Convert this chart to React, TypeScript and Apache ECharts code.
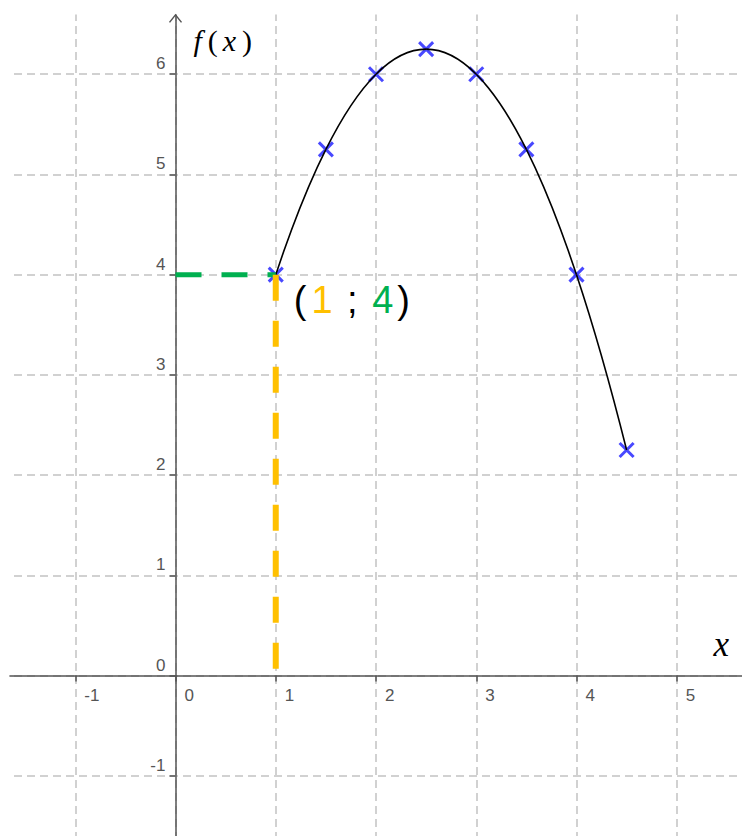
import React, { useEffect, useRef } from "react";
import * as echarts from "echarts";

// Sampled points of f, marked with crosses and joined by a smooth curve
const pointX = [1, 1.5, 2, 2.5, 3, 3.5, 4, 4.5];
const pointY = [4, 5.25, 6, 6.25, 6, 5.25, 4, 2.25];

// The highlighted point (x ; f(x))
const markedPoint = [1, 4];

// Axis ranges in whole units; the chart box is a little larger than the page
const xRange = [-2, 6];
const yRange = [-2, 7];

const W = 742;
const H = 836;
const ORIGIN_X = 175;
const ORIGIN_Y = 675;
const UNIT = 100.2;

// chart box placement relative to the page
const BOX_LEFT = ORIGIN_X + xRange[0] * UNIT;
const BOX_TOP = ORIGIN_Y - yRange[1] * UNIT;
const BOX_W = (xRange[1] - xRange[0]) * UNIT;
const BOX_H = (yRange[1] - yRange[0]) * UNIT;

const AXIS_COLOR = "#555";
const GRID_COLOR = "#c2c2c2";
const CROSS_COLOR = "#1a1aff";
const GREEN = "#00b050";
const ORANGE = "#ffc000";

const crossSymbol = "path://M0,0L10,10M10,0L0,10";

export default function App() {
  const ref = useRef<HTMLDivElement>(null);

  useEffect(() => {
    if (!ref.current) return;
    const chart = echarts.init(ref.current, null, { renderer: "svg" });

    const points = pointX.map((x, i) => [x, pointY[i]]);

    const splitLine = {
      show: true,
      lineStyle: { color: GRID_COLOR, width: 1.5, type: [8, 5] as number[] },
    };

    // smooth curve through the sampled points: cubic segments with
    // central-difference tangents (one-sided at both ends)
    const renderCurve = (_params: any, api: any) => {
      const p = points.map((pt) => api.coord(pt) as number[]);
      const n = p.length;
      const tangent = (i: number) => {
        if (i === 0) return [0, 1].map((k) => (-3 * p[0][k] + 4 * p[1][k] - p[2][k]) / 2);
        if (i === n - 1)
          return [0, 1].map((k) => (3 * p[n - 1][k] - 4 * p[n - 2][k] + p[n - 3][k]) / 2);
        return [0, 1].map((k) => (p[i + 1][k] - p[i - 1][k]) / 2);
      };
      const t = p.map((_, i) => tangent(i));
      const children = [];
      for (let i = 0; i < n - 1; i++) {
        children.push({
          type: "bezierCurve",
          shape: {
            x1: p[i][0],
            y1: p[i][1],
            x2: p[i + 1][0],
            y2: p[i + 1][1],
            cpx1: p[i][0] + t[i][0] / 3,
            cpy1: p[i][1] + t[i][1] / 3,
            cpx2: p[i + 1][0] - t[i + 1][0] / 3,
            cpy2: p[i + 1][1] - t[i + 1][1] / 3,
          },
          style: { stroke: "#000", lineWidth: 1.6, fill: "none" },
        });
      }
      return { type: "group", children };
    };

    const tickLabel = {
      showMinLabel: false,
      showMaxLabel: false,
      fontSize: 17,
      color: AXIS_COLOR,
      fontFamily: "Liberation Sans",
    };

    const option: any = {
      animation: false,
      backgroundColor: "#fff",
      grid: {
        left: 0,
        right: 0,
        top: 0,
        bottom: 0,
        containLabel: false,
        outerBoundsMode: "none",
      },
      xAxis: {
        type: "value",
        min: xRange[0],
        max: xRange[1],
        interval: 1,
        position: "bottom",
        offset: yRange[0] * UNIT,
        axisLine: { show: true, onZero: false, lineStyle: { color: AXIS_COLOR, width: 1.5 } },
        axisTick: { show: true, length: 6, lineStyle: { color: AXIS_COLOR, width: 1.5 } },
        axisLabel: {
          ...tickLabel,
          align: "left",
          padding: [0, 0, 0, 9],
          margin: 11,
        },
        splitLine,
      },
      yAxis: {
        type: "value",
        min: yRange[0],
        max: yRange[1],
        interval: 1,
        position: "left",
        offset: xRange[0] * UNIT,
        axisLine: { show: true, onZero: false, lineStyle: { color: AXIS_COLOR, width: 1.5 } },
        axisTick: { show: true, length: 6, lineStyle: { color: AXIS_COLOR, width: 1.5 } },
        axisLabel: {
          ...tickLabel,
          align: "right",
          verticalAlign: "bottom",
          padding: [0, 0, 2, 0],
          margin: 10,
        },
        splitLine,
      },
      series: [
        {
          type: "scatter",
          data: points,
          symbol: crossSymbol,
          symbolSize: 14,
          itemStyle: { color: "rgba(0,0,0,0)", borderColor: CROSS_COLOR, borderWidth: 3 },
          z: 3,
        },
        {
          type: "custom",
          data: [0],
          renderItem: renderCurve,
          z: 4,
          silent: true,
        },
        {
          type: "line",
          data: [
            [0, markedPoint[1]],
            [markedPoint[0], markedPoint[1]],
          ],
          symbol: "none",
          lineStyle: { color: GREEN, width: 5, type: [26, 20], cap: "butt" },
          z: 5,
        },
        {
          type: "line",
          data: [
            [markedPoint[0], markedPoint[1]],
            [markedPoint[0], 0],
          ],
          symbol: "none",
          lineStyle: { color: ORANGE, width: 6, type: [26, 20], cap: "butt" },
          z: 5,
        },
      ],
    };

    chart.setOption(option);

    const [ox] = chart.convertToPixel({ gridIndex: 0 }, [0, 0]) as number[];
    const [mx, my] = chart.convertToPixel({ gridIndex: 0 }, markedPoint) as number[];
    // page coordinates -> chart box coordinates
    const px = (x: number) => x - BOX_LEFT;
    const py = (y: number) => y - BOX_TOP;

    chart.setOption({
      graphic: [
        // the grid starts a little inside the page edges
        {
          type: "rect",
          z: 10,
          shape: { x: 0, y: 0, width: px(9), height: BOX_H },
          style: { fill: "#fff" },
        },
        {
          type: "rect",
          z: 10,
          shape: { x: 0, y: 0, width: BOX_W, height: py(14) },
          style: { fill: "#fff" },
        },
        // arrow head on the vertical axis
        {
          type: "polyline",
          z: 11,
          shape: { points: [[ox - 6, py(22)], [ox, py(14.5)], [ox + 6, py(22)]] },
          style: { stroke: AXIS_COLOR, lineWidth: 1.5, fill: "none" },
        },
        // axis names
        {
          type: "text",
          z: 11,
          x: px(190),
          y: py(25),
          style: {
            text: "{i|f}{n|(}{i|x}{n|)}",
            rich: {
              i: { fontFamily: "Liberation Serif", fontStyle: "italic", fontSize: 30, fill: "#000", padding: [0, 4, 0, 3] },
              n: { fontFamily: "Liberation Serif", fontSize: 30, fill: "#000", padding: [0, 2, 0, 2] },
            },
          },
        },
        {
          type: "text",
          z: 11,
          x: px(713),
          y: py(627),
          style: {
            text: "x",
            fontFamily: "Liberation Serif",
            fontStyle: "italic",
            fontSize: 35,
            fill: "#000",
          },
        },
        // coordinates of the marked point
        {
          type: "text",
          z: 11,
          x: mx + 16,
          y: my + 6,
          style: {
            text: `{p|(}{o|${markedPoint[0]}}{p| ; }{g|${markedPoint[1]}}{p|)}`,
            rich: {
              p: { fontFamily: "Liberation Sans", fontSize: 38, fill: "#000", padding: [0, 2, 0, 2] },
              o: { fontFamily: "Liberation Sans", fontSize: 38, fill: ORANGE, padding: [0, 2, 0, 3] },
              g: { fontFamily: "Liberation Sans", fontSize: 38, fill: GREEN, padding: [0, 2, 0, 2] },
            },
          },
        },
      ],
    });

    return () => chart.dispose();
  }, []);

  return (
    <div
      ref={ref}
      style={{
        position: "fixed",
        left: BOX_LEFT,
        top: BOX_TOP,
        width: BOX_W,
        height: BOX_H,
        background: "#fff",
      }}
    />
  );
}
